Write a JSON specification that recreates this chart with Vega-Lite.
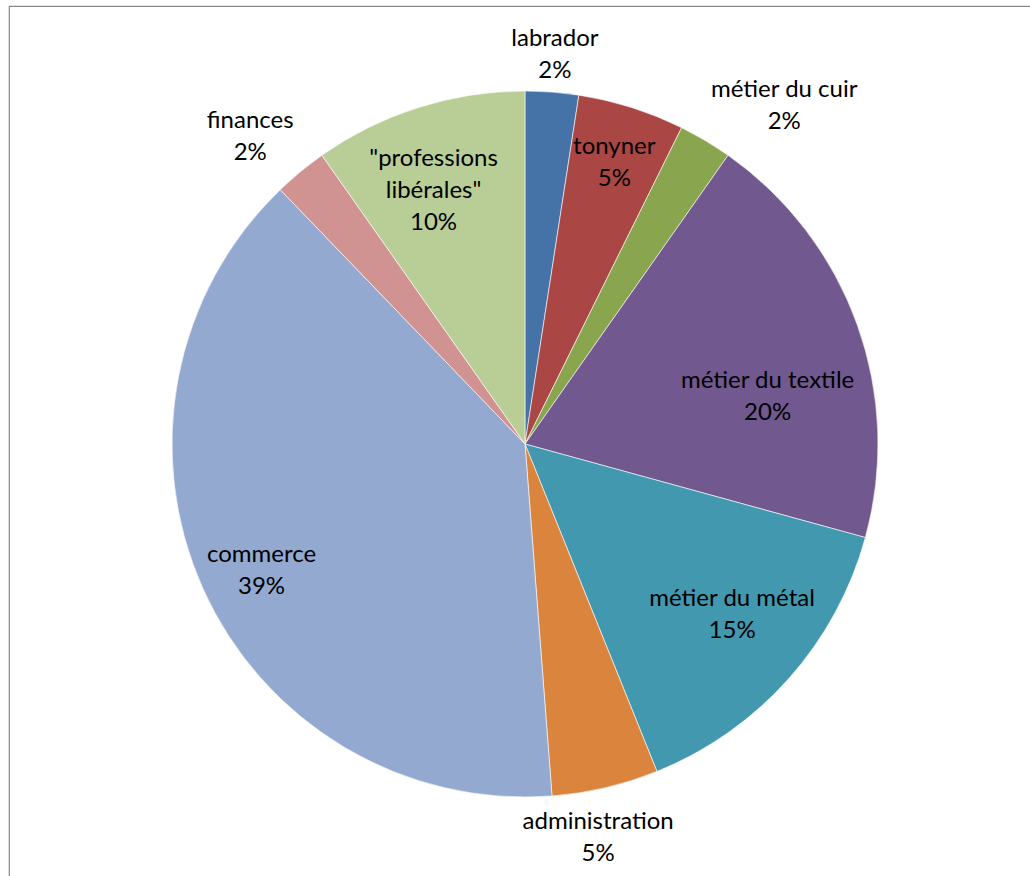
{
  "$schema": "https://vega.github.io/schema/vega-lite/v6.json",
  "width": 1032,
  "height": 876,
  "autosize": {"type": "none"},
  "padding": {"left": 9, "top": 6, "right": 0, "bottom": 0},
  "background": "white",
  "view": {"stroke": "#898989", "strokeWidth": 1.2},
  "config": {"view": {"stroke": "#898989", "strokeWidth": 1.2}},
  "data": {
    "values": [
      {"rank": 1, "name": "labrador", "count": 1, "label": "labrador\n2%"},
      {"rank": 2, "name": "tonyner", "count": 2, "label": "tonyner\n5%"},
      {"rank": 3, "name": "métier du cuir", "count": 1, "label": "métier du cuir\n2%"},
      {"rank": 4, "name": "métier du textile", "count": 8, "label": "métier du textile\n20%"},
      {"rank": 5, "name": "métier du métal", "count": 6, "label": "métier du métal\n15%"},
      {"rank": 6, "name": "administration", "count": 2, "label": "administration\n5%"},
      {"rank": 7, "name": "commerce", "count": 16, "label": "commerce\n39%"},
      {"rank": 8, "name": "finances", "count": 1, "label": "finances\n2%"},
      {"rank": 9, "name": "\"professions libérales\"", "count": 4, "label": "\"professions\nlibérales\"\n10%"}
    ]
  },
  "encoding": {
    "theta": {"field": "count", "type": "quantitative", "stack": true},
    "order": {"field": "rank", "type": "quantitative"}
  },
  "layer": [
    {
      "mark": {"type": "arc", "outerRadius": 353, "stroke": "#ffffff", "strokeWidth": 0.6},
      "encoding": {
        "color": {
          "field": "name",
          "type": "nominal",
          "legend": null,
          "scale": {
            "domain": ["labrador", "tonyner", "métier du cuir", "métier du textile", "métier du métal", "administration", "commerce", "finances", "\"professions libérales\""],
            "range": ["#4572A7", "#AA4643", "#89A54E", "#71588F", "#4198AF", "#DB843D", "#93A9CF", "#D19392", "#B9CD96"]
          }
        }
      }
    },
    {
      "mark": {"type": "text", "radius": 391, "dy": -15, "font": "Lato", "fontSize": 24, "lineHeight": 32, "lineBreak": "\n", "align": "center", "baseline": "middle", "fill": "#000000"},
      "encoding": {"detail": {"field": "name"}, "text": {"condition": {"test": "datum.name === 'labrador'", "field": "label"}, "value": ""}}
    },
    {
      "mark": {"type": "text", "radius": 296, "dy": -15, "font": "Lato", "fontSize": 24, "lineHeight": 32, "lineBreak": "\n", "align": "center", "baseline": "middle", "fill": "#000000"},
      "encoding": {"detail": {"field": "name"}, "text": {"condition": {"test": "datum.name === 'tonyner'", "field": "label"}, "value": ""}}
    },
    {
      "mark": {"type": "text", "radius": 427, "dx": 41, "dy": 13, "font": "Lato", "fontSize": 24, "lineHeight": 32, "lineBreak": "\n", "align": "center", "baseline": "middle", "fill": "#000000"},
      "encoding": {"detail": {"field": "name"}, "text": {"condition": {"test": "datum.name === 'métier du cuir'", "field": "label"}, "value": ""}}
    },
    {
      "mark": {"type": "text", "radius": 245, "dx": 12, "dy": 20, "font": "Lato", "fontSize": 24, "lineHeight": 32, "lineBreak": "\n", "align": "center", "baseline": "middle", "fill": "#000000"},
      "encoding": {"detail": {"field": "name"}, "text": {"condition": {"test": "datum.name === 'métier du textile'", "field": "label"}, "value": ""}}
    },
    {
      "mark": {"type": "text", "radius": 268, "dx": 7, "dy": -23, "font": "Lato", "fontSize": 24, "lineHeight": 32, "lineBreak": "\n", "align": "center", "baseline": "middle", "fill": "#000000"},
      "encoding": {"detail": {"field": "name"}, "text": {"condition": {"test": "datum.name === 'métier du métal'", "field": "label"}, "value": ""}}
    },
    {
      "mark": {"type": "text", "radius": 400, "dx": -18, "dy": -11, "font": "Lato", "fontSize": 24, "lineHeight": 32, "lineBreak": "\n", "align": "center", "baseline": "middle", "fill": "#000000"},
      "encoding": {"detail": {"field": "name"}, "text": {"condition": {"test": "datum.name === 'administration'", "field": "label"}, "value": ""}}
    },
    {
      "mark": {"type": "text", "radius": 292, "dx": 3, "dy": -8, "font": "Lato", "fontSize": 24, "lineHeight": 32, "lineBreak": "\n", "align": "center", "baseline": "middle", "fill": "#000000"},
      "encoding": {"detail": {"field": "name"}, "text": {"condition": {"test": "datum.name === 'commerce'", "field": "label"}, "value": ""}}
    },
    {
      "mark": {"type": "text", "radius": 413, "dx": -12, "dy": -4, "font": "Lato", "fontSize": 24, "lineHeight": 32, "lineBreak": "\n", "align": "center", "baseline": "middle", "fill": "#000000"},
      "encoding": {"detail": {"field": "name"}, "text": {"condition": {"test": "datum.name === 'finances'", "field": "label"}, "value": ""}}
    },
    {
      "mark": {"type": "text", "radius": 270, "dx": -10, "dy": -28, "font": "Lato", "fontSize": 24, "lineHeight": 32, "lineBreak": "\n", "align": "center", "baseline": "middle", "fill": "#000000"},
      "encoding": {"detail": {"field": "name"}, "text": {"condition": {"test": "datum.name === '\"professions libérales\"'", "field": "label"}, "value": ""}}
    }
  ]
}
